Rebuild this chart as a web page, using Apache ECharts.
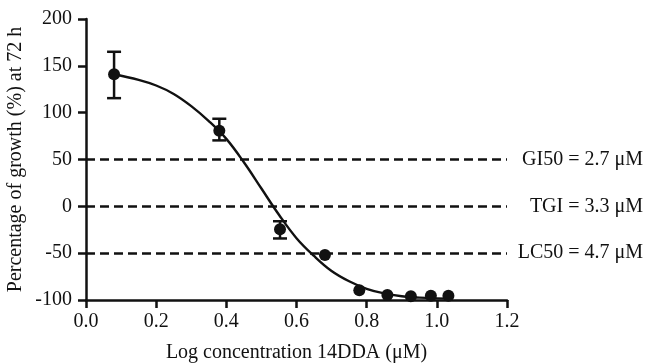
<!DOCTYPE html>
<html>
<head>
<meta charset="utf-8">
<script src="https://cdn.jsdelivr.net/npm/echarts@6/dist/echarts.min.js"></script>
<style>
  html, body { margin: 0; padding: 0; background: #fff; }
  #chart { width: 649px; height: 364px; }
</style>
</head>
<body>
<div id="chart"></div>
<script>
// measured points: log concentration vs growth (%)
const logConc = [0.08, 0.38, 0.553, 0.681, 0.779, 0.859, 0.926, 0.983, 1.033];
const growth = [141, 80.6, -24.5, -51.9, -89.7, -94.6, -96, -95.5, -95.5];
const errLow = [115.5, 70.4, -34.3, null, null, null, null, null, null];
const errHigh = [165, 93.5, -15.9, null, null, null, null, null, null];

// fitted curve
const curveX = [0.08, 0.15, 0.2, 0.25, 0.3, 0.35, 0.4, 0.45, 0.5, 0.55, 0.6, 0.65, 0.7, 0.75, 0.8, 0.85, 0.9, 0.95, 1.0, 1.03];
const curveY = [141, 135, 129, 120, 107, 91, 72, 47, 19, -9, -34, -53, -69, -80, -88, -93, -96, -97.5, -98.3, -98.5];

// reference lines
const refValues = [50, 0, -50];
const refLabels = ['GI50 = 2.7 μM', 'TGI = 3.3 μM', 'LC50 = 4.7 μM'];

const xTicks = { min: 0, max: 1.2, interval: 0.2 };
const yTicks = { min: -100, max: 200, interval: 50 };

const font = 'Liberation Serif';
const fs = 20;
const ink = '#111';

const chart = echarts.init(document.getElementById('chart'));

const points = logConc.map((x, i) => [x, growth[i]]);
const errData = logConc
  .map((x, i) => [x, errLow[i], errHigh[i]])
  .filter(d => d[1] !== null);

chart.setOption({
  animation: false,
  backgroundColor: '#fff',
  grid: { left: 86, right: 142, top: 19, bottom: 64, outerBoundsMode: 'none', containLabel: false },
  xAxis: {
    type: 'value',
    min: xTicks.min, max: xTicks.max, interval: xTicks.interval,
    name: 'Log concentration 14DDA (μM)',
    nameLocation: 'middle',
    nameGap: 43,
    nameMoveOverlap: false,
    nameTextStyle: { color: ink, fontFamily: font, fontSize: fs },
    splitLine: { show: false },
    axisLine: { onZero: false, lineStyle: { color: ink, width: 2.5 } },
    axisTick: { length: 8, lineStyle: { color: ink, width: 2.5 } },
    axisLabel: { color: ink, fontFamily: font, fontSize: fs, margin: 12,
      formatter: v => v.toFixed(1) }
  },
  yAxis: {
    type: 'value',
    min: yTicks.min, max: yTicks.max, interval: yTicks.interval,
    name: 'Percentage of growth (%) at 72 h',
    nameLocation: 'middle',
    nameGap: 60,
    nameMoveOverlap: false,
    nameTextStyle: { color: ink, fontFamily: font, fontSize: fs },
    splitLine: { show: false },
    axisLine: { show: true, lineStyle: { color: ink, width: 2.5 } },
    axisTick: { show: true, length: 8, lineStyle: { color: ink, width: 2.5 } },
    axisLabel: { color: ink, fontFamily: font, fontSize: fs, margin: 14 }
  },
  series: [
    {
      type: 'line',
      data: refValues.map(() => null),
      symbol: 'none',
      silent: true,
      markLine: {
        symbol: 'none',
        silent: true,
        lineStyle: { color: ink, width: 2.5, type: [9, 5] },
        label: {
          show: true, position: 'end', distance: 136, align: 'right',
          color: ink, fontFamily: font, fontSize: fs
        },
        data: refValues.map((v, i) => ({ yAxis: v, label: { formatter: refLabels[i] } }))
      }
    },
    {
      type: 'line',
      data: curveX.map((x, i) => [x, curveY[i]]),
      smooth: 0.4,
      symbol: 'none',
      lineStyle: { color: ink, width: 2.4 },
      z: 3
    },
    {
      type: 'custom',
      data: errData,
      renderItem: (params, api) => {
        const x = api.value(0);
        const lo = api.coord([x, api.value(1)]);
        const hi = api.coord([x, api.value(2)]);
        const cap = 7;
        const style = { stroke: ink, lineWidth: 2.5 };
        return {
          type: 'group',
          children: [
            { type: 'line', shape: { x1: lo[0], y1: lo[1], x2: hi[0], y2: hi[1] }, style },
            { type: 'line', shape: { x1: lo[0] - cap, y1: lo[1], x2: lo[0] + cap, y2: lo[1] }, style },
            { type: 'line', shape: { x1: hi[0] - cap, y1: hi[1], x2: hi[0] + cap, y2: hi[1] }, style }
          ]
        };
      },
      z: 4
    },
    {
      type: 'scatter',
      data: points,
      symbol: 'circle',
      symbolSize: 12,
      itemStyle: { color: ink, opacity: 1 },
      z: 5
    }
  ]
});
</script>
</body>
</html>
